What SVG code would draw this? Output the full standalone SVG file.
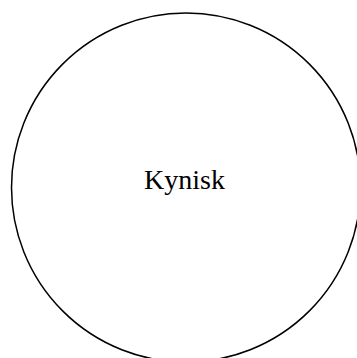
<svg xmlns="http://www.w3.org/2000/svg" width="357" height="358" viewBox="0 0 357 358">
<style>
.node{fill:#fff;stroke:#000;stroke-width:1.5}
.lbl{font-family:"Liberation Serif","Times New Roman",serif;font-size:28px;fill:#000;text-anchor:middle}
</style>
<rect width="357" height="358" fill="#fff"/>
<g id="connectors"></g>
<g id="node-kynisk">
<circle class="node" cx="186" cy="187.5" r="174.5"/>
<text class="lbl" x="184.5" y="189">Kynisk</text>
</g>
</svg>
